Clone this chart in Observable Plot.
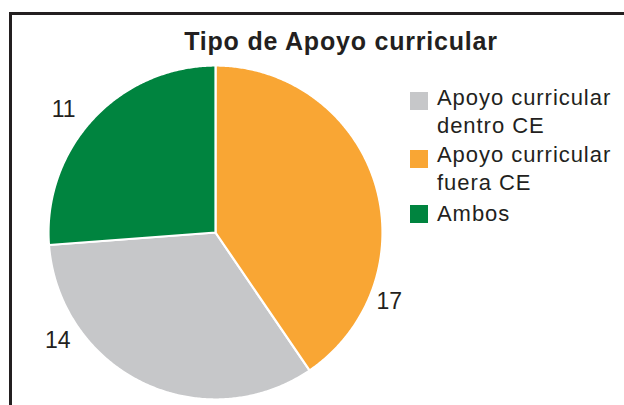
<!DOCTYPE html>
<html>
<head>
<meta charset="utf-8">
<script src="https://cdn.jsdelivr.net/npm/d3@7"></script>
<script src="https://cdn.jsdelivr.net/npm/@observablehq/plot@0.6"></script>
<style>
  html, body { margin: 0; padding: 0; background: #fff; }
  #wrap { position: relative; width: 624px; height: 405px; overflow: hidden; background: #fff;
          font-family: "Liberation Sans", Arial, Helvetica, sans-serif; color: #231f20; }
  #frame { position: absolute; left: 9px; top: 12px; width: 700px; height: 500px;
           border-left: 3px solid #231f20; border-top: 3px solid #231f20; }
  #chart { position: absolute; left: 0; top: 0; }
  #title { position: absolute; left: 0; width: 682px; top: 27px; text-align: center;
           font-weight: bold; font-size: 25px; letter-spacing: 0.8px; line-height: 28px; white-space: nowrap; }
  .sw { position: absolute; left: 410px; width: 18px; height: 18px; }
  .lt { position: absolute; left: 437px; font-size: 22px; line-height: 28px; letter-spacing: 0.95px; white-space: nowrap; }
</style>
</head>
<body>
<div id="wrap">
  <div id="chart"></div>
  <div id="frame"></div>
  <div id="title"></div>
  <div id="legend"></div>
</div>
<script>
// ---- data ----
const title = "Tipo de Apoyo curricular";
const categories = ["Apoyo curricular dentro CE", "Apoyo curricular fuera CE", "Ambos"];
const legendLines = [["Apoyo curricular", "dentro CE"], ["Apoyo curricular", "fuera CE"], ["Ambos"]];
const values = [14, 17, 11];
const colors = ["#c6c7c9", "#f9a634", "#00843f"];
// clockwise order of slices starting at 12 o'clock
const sliceOrder = ["Apoyo curricular fuera CE", "Apoyo curricular dentro CE", "Ambos"];

// ---- layout (not data) ----
const layout = {
  cx: 215, cy: 232, r: 167,
  // label placement: angle (deg, clockwise from top) and radius factor
  labels: {
    "Apoyo curricular fuera CE": {angle: 111.7, k: 1.12},
    "Apoyo curricular dentro CE": {angle: 235.6, k: 1.145},
    "Ambos": {angle: 309.0, k: 1.17}
  },
  legendSwatchTop: [92, 150, 205],
  legendTextTop: [84, 141, 200]
};

const table = categories.map((c, i) => ({name: c, value: values[i]}));
const pie = d3.pie()
  .value(d => d.value)
  .sort((a, b) => sliceOrder.indexOf(a.name) - sliceOrder.indexOf(b.name))
  .startAngle(0).endAngle(2 * Math.PI);
const arcs = pie(table);

// polygon points for each slice in unit-circle coordinates
const polyPoints = [];
for (const a of arcs) {
  polyPoints.push({name: a.data.name, x: 0, y: 0});
  const n = Math.max(2, Math.ceil((a.endAngle - a.startAngle) / (Math.PI / 360)));
  for (let i = 0; i <= n; i++) {
    const t = a.startAngle + (a.endAngle - a.startAngle) * i / n;
    polyPoints.push({name: a.data.name, x: Math.sin(t), y: Math.cos(t)});
  }
}

const labelData = arcs.map(a => {
  const L = layout.labels[a.data.name];
  const t = L.angle * Math.PI / 180;
  return {name: a.data.name, value: a.data.value, x: L.k * Math.sin(t), y: L.k * Math.cos(t)};
});

const {cx, cy, r} = layout;
const plot = Plot.plot({
  width: 624,
  height: 405,
  margin: 0,
  x: {domain: [-1, 1], range: [cx - r, cx + r], axis: null},
  y: {domain: [-1, 1], range: [cy + r, cy - r], axis: null},
  color: {domain: categories, range: colors},
  style: {background: "transparent", fontFamily: "'Liberation Sans', Arial, sans-serif"},
  marks: [
    Plot.line(polyPoints, {
      x: "x", y: "y", z: "name", fill: "name",
      stroke: "#ffffff", strokeWidth: 2.2, strokeLinejoin: "round",
      curve: "linear-closed"
    }),
    Plot.text(labelData, {
      x: "x", y: "y", text: d => String(d.value),
      fontSize: 23, fill: "#231f20", textAnchor: "middle"
    })
  ]
});
document.getElementById("chart").appendChild(plot);

document.getElementById("title").textContent = title;
const legend = document.getElementById("legend");
categories.forEach((c, i) => {
  const sw = document.createElement("div");
  sw.className = "sw";
  sw.style.top = layout.legendSwatchTop[i] + "px";
  sw.style.background = colors[i];
  legend.appendChild(sw);
  const t = document.createElement("div");
  t.className = "lt";
  t.style.top = layout.legendTextTop[i] + "px";
  t.innerHTML = legendLines[i].join("<br>");
  legend.appendChild(t);
});
</script>
</body>
</html>
